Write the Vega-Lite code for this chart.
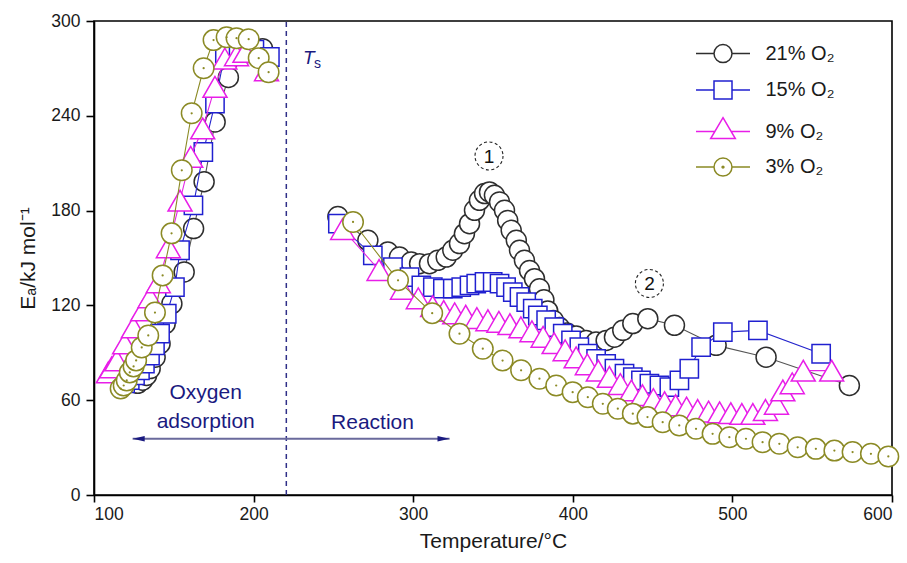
{
  "$schema": "https://vega.github.io/schema/vega-lite/v6.json",
  "width": 798,
  "height": 474,
  "autosize": {"type": "none"},
  "padding": {"left": 94, "top": 21, "right": 15, "bottom": 68},
  "background": "white",
  "config": {
    "font": "Liberation Sans",
    "view": {"stroke": "#000000", "strokeWidth": 1.6},
    "axis": {
      "domainColor": "#000000", "domainWidth": 1.6, "tickColor": "#000000", "tickWidth": 1.6,
      "labelColor": "#1a1a1a", "titleColor": "#1a1a1a", "grid": false,
      "labelFont": "Liberation Sans", "titleFont": "Liberation Sans", "titleFontWeight": "normal",
      "labelFontSize": 17.5, "titleFontSize": 21
    },
    "axisX": {"tickSize": 7, "labelPadding": 3, "titlePadding": 8},
    "axisY": {"tickSize": 8, "labelPadding": 6, "titlePadding": 12}
  },
  "datasets": {
    "ea": [
      {"s": "21% O₂", "g": "r", "T": 127.4, "E": 70.7},
      {"s": "21% O₂", "g": "r", "T": 130.4, "E": 72.7},
      {"s": "21% O₂", "g": "r", "T": 132.9, "E": 75.7},
      {"s": "21% O₂", "g": "r", "T": 135.2, "E": 80},
      {"s": "21% O₂", "g": "r", "T": 138.3, "E": 87.2},
      {"s": "21% O₂", "g": "r", "T": 141.4, "E": 95.8},
      {"s": "21% O₂", "g": "r", "T": 144.6, "E": 108.4},
      {"s": "21% O₂", "g": "r", "T": 148.8, "E": 121.1},
      {"s": "21% O₂", "g": "r", "T": 156.5, "E": 141.2},
      {"s": "21% O₂", "g": "r", "T": 162.4, "E": 168.6},
      {"s": "21% O₂", "g": "r", "T": 169, "E": 198.3},
      {"s": "21% O₂", "g": "r", "T": 175.9, "E": 236.1},
      {"s": "21% O₂", "g": "r", "T": 184.2, "E": 264.3},
      {"s": "21% O₂", "g": "r", "T": 195.6, "E": 280},
      {"s": "21% O₂", "g": "r", "T": 205.6, "E": 282.5},
      {"s": "21% O₂", "g": "h", "T": 252.8, "E": 176.2},
      {"s": "21% O₂", "g": "h", "T": 271.6, "E": 161.2},
      {"s": "21% O₂", "g": "h", "T": 284.1, "E": 153.8},
      {"s": "21% O₂", "g": "h", "T": 291.4, "E": 150.6},
      {"s": "21% O₂", "g": "h", "T": 298.7, "E": 147.4},
      {"s": "21% O₂", "g": "h", "T": 304, "E": 146.4},
      {"s": "21% O₂", "g": "h", "T": 310.2, "E": 146.4},
      {"s": "21% O₂", "g": "h", "T": 315.4, "E": 148.5},
      {"s": "21% O₂", "g": "h", "T": 320.7, "E": 150.6},
      {"s": "21% O₂", "g": "h", "T": 324.8, "E": 154.9},
      {"s": "21% O₂", "g": "h", "T": 329, "E": 159.1},
      {"s": "21% O₂", "g": "h", "T": 332.1, "E": 165.4},
      {"s": "21% O₂", "g": "h", "T": 335.3, "E": 171.7},
      {"s": "21% O₂", "g": "h", "T": 338.4, "E": 180.2},
      {"s": "21% O₂", "g": "h", "T": 341.5, "E": 186.5},
      {"s": "21% O₂", "g": "h", "T": 344.7, "E": 190.8},
      {"s": "21% O₂", "g": "h", "T": 347.8, "E": 191.8},
      {"s": "21% O₂", "g": "h", "T": 350.9, "E": 189.7},
      {"s": "21% O₂", "g": "h", "T": 354.1, "E": 185.5},
      {"s": "21% O₂", "g": "h", "T": 357.2, "E": 180.2},
      {"s": "21% O₂", "g": "h", "T": 359.2, "E": 173.8},
      {"s": "21% O₂", "g": "h", "T": 361.4, "E": 167.5},
      {"s": "21% O₂", "g": "h", "T": 364.6, "E": 161.2},
      {"s": "21% O₂", "g": "h", "T": 366.6, "E": 154.9},
      {"s": "21% O₂", "g": "h", "T": 369.7, "E": 148.5},
      {"s": "21% O₂", "g": "h", "T": 372.9, "E": 142.1},
      {"s": "21% O₂", "g": "h", "T": 376, "E": 136.9},
      {"s": "21% O₂", "g": "h", "T": 379.1, "E": 130.5},
      {"s": "21% O₂", "g": "h", "T": 381.9, "E": 123.5},
      {"s": "21% O₂", "g": "h", "T": 384.3, "E": 116.5},
      {"s": "21% O₂", "g": "h", "T": 387.8, "E": 110.5},
      {"s": "21% O₂", "g": "h", "T": 391.7, "E": 106},
      {"s": "21% O₂", "g": "h", "T": 396.2, "E": 102.6},
      {"s": "21% O₂", "g": "h", "T": 402.1, "E": 100.6},
      {"s": "21% O₂", "g": "h", "T": 408.3, "E": 97.8},
      {"s": "21% O₂", "g": "h", "T": 414.6, "E": 96.8},
      {"s": "21% O₂", "g": "h", "T": 420.9, "E": 97.8},
      {"s": "21% O₂", "g": "h", "T": 426.1, "E": 99.9},
      {"s": "21% O₂", "g": "h", "T": 431.3, "E": 104.2},
      {"s": "21% O₂", "g": "h", "T": 437.6, "E": 108.5},
      {"s": "21% O₂", "g": "h", "T": 447, "E": 111.6},
      {"s": "21% O₂", "g": "h", "T": 463.7, "E": 107.4},
      {"s": "21% O₂", "g": "h", "T": 489.8, "E": 94.7},
      {"s": "21% O₂", "g": "h", "T": 521.1, "E": 87.2},
      {"s": "21% O₂", "g": "h", "T": 573.3, "E": 69.3},
      {"s": "15% O₂", "g": "r", "T": 119.5, "E": 70.7},
      {"s": "15% O₂", "g": "r", "T": 122.4, "E": 72.7},
      {"s": "15% O₂", "g": "r", "T": 125.7, "E": 75.7},
      {"s": "15% O₂", "g": "r", "T": 128.8, "E": 78.9},
      {"s": "15% O₂", "g": "r", "T": 131.9, "E": 83.1},
      {"s": "15% O₂", "g": "r", "T": 135.1, "E": 88.3},
      {"s": "15% O₂", "g": "r", "T": 138.2, "E": 94.7},
      {"s": "15% O₂", "g": "r", "T": 141.4, "E": 102.1},
      {"s": "15% O₂", "g": "r", "T": 145.6, "E": 114.7},
      {"s": "15% O₂", "g": "r", "T": 150.7, "E": 131.6},
      {"s": "15% O₂", "g": "r", "T": 153.9, "E": 154.9},
      {"s": "15% O₂", "g": "r", "T": 162.3, "E": 183.3},
      {"s": "15% O₂", "g": "r", "T": 168.5, "E": 217.1},
      {"s": "15% O₂", "g": "r", "T": 175.8, "E": 247.8},
      {"s": "15% O₂", "g": "r", "T": 182, "E": 279.5},
      {"s": "15% O₂", "g": "r", "T": 190.6, "E": 280.9},
      {"s": "15% O₂", "g": "r", "T": 200.5, "E": 281.9},
      {"s": "15% O₂", "g": "r", "T": 210.2, "E": 277.2},
      {"s": "15% O₂", "g": "h", "T": 252.8, "E": 171.7},
      {"s": "15% O₂", "g": "h", "T": 274.7, "E": 151.7},
      {"s": "15% O₂", "g": "h", "T": 287.3, "E": 144.2},
      {"s": "15% O₂", "g": "h", "T": 297.7, "E": 137.9},
      {"s": "15% O₂", "g": "h", "T": 305.1, "E": 132.7},
      {"s": "15% O₂", "g": "h", "T": 312.3, "E": 131.6},
      {"s": "15% O₂", "g": "h", "T": 318.6, "E": 130.6},
      {"s": "15% O₂", "g": "h", "T": 324.8, "E": 130.6},
      {"s": "15% O₂", "g": "h", "T": 330.1, "E": 131.6},
      {"s": "15% O₂", "g": "h", "T": 335.3, "E": 132.7},
      {"s": "15% O₂", "g": "h", "T": 339.5, "E": 133.8},
      {"s": "15% O₂", "g": "h", "T": 344.7, "E": 134.8},
      {"s": "15% O₂", "g": "h", "T": 349.8, "E": 134.8},
      {"s": "15% O₂", "g": "h", "T": 354.1, "E": 133.8},
      {"s": "15% O₂", "g": "h", "T": 358.2, "E": 131.6},
      {"s": "15% O₂", "g": "h", "T": 362.4, "E": 128.4},
      {"s": "15% O₂", "g": "h", "T": 366.6, "E": 125.3},
      {"s": "15% O₂", "g": "h", "T": 370.8, "E": 122.1},
      {"s": "15% O₂", "g": "h", "T": 374.9, "E": 117.9},
      {"s": "15% O₂", "g": "h", "T": 378.1, "E": 113.6},
      {"s": "15% O₂", "g": "h", "T": 383.3, "E": 110.6},
      {"s": "15% O₂", "g": "h", "T": 388.4, "E": 106.3},
      {"s": "15% O₂", "g": "h", "T": 393.7, "E": 102.1},
      {"s": "15% O₂", "g": "h", "T": 398.9, "E": 97.8},
      {"s": "15% O₂", "g": "h", "T": 404.1, "E": 93.6},
      {"s": "15% O₂", "g": "h", "T": 409.4, "E": 89.4},
      {"s": "15% O₂", "g": "h", "T": 414.6, "E": 86.2},
      {"s": "15% O₂", "g": "h", "T": 420.9, "E": 83},
      {"s": "15% O₂", "g": "h", "T": 426.1, "E": 79.9},
      {"s": "15% O₂", "g": "h", "T": 432.4, "E": 76.8},
      {"s": "15% O₂", "g": "h", "T": 437.6, "E": 74.6},
      {"s": "15% O₂", "g": "h", "T": 442.7, "E": 72.5},
      {"s": "15% O₂", "g": "h", "T": 448, "E": 70.4},
      {"s": "15% O₂", "g": "h", "T": 454.3, "E": 69.3},
      {"s": "15% O₂", "g": "h", "T": 460.5, "E": 68.3},
      {"s": "15% O₂", "g": "h", "T": 466.8, "E": 72.5},
      {"s": "15% O₂", "g": "h", "T": 473, "E": 79.9},
      {"s": "15% O₂", "g": "h", "T": 480.4, "E": 93.6},
      {"s": "15% O₂", "g": "h", "T": 494, "E": 103.1},
      {"s": "15% O₂", "g": "h", "T": 516, "E": 104.2},
      {"s": "15% O₂", "g": "h", "T": 555.6, "E": 89.4},
      {"s": "9% O₂", "g": "r", "T": 109, "E": 77.6},
      {"s": "9% O₂", "g": "r", "T": 111.1, "E": 80.8},
      {"s": "9% O₂", "g": "r", "T": 114.3, "E": 85.2},
      {"s": "9% O₂", "g": "r", "T": 119.2, "E": 95.9},
      {"s": "9% O₂", "g": "r", "T": 124.7, "E": 106.1},
      {"s": "9% O₂", "g": "r", "T": 130.5, "E": 116.8},
      {"s": "9% O₂", "g": "r", "T": 135.1, "E": 125.1},
      {"s": "9% O₂", "g": "r", "T": 140.3, "E": 134.6},
      {"s": "9% O₂", "g": "r", "T": 146.6, "E": 156.8},
      {"s": "9% O₂", "g": "r", "T": 153.9, "E": 186.3},
      {"s": "9% O₂", "g": "r", "T": 160.6, "E": 214},
      {"s": "9% O₂", "g": "r", "T": 168.1, "E": 232},
      {"s": "9% O₂", "g": "r", "T": 175.8, "E": 258.3},
      {"s": "9% O₂", "g": "r", "T": 182, "E": 276.2},
      {"s": "9% O₂", "g": "r", "T": 189.3, "E": 278.3},
      {"s": "9% O₂", "g": "r", "T": 194.6, "E": 280.4},
      {"s": "9% O₂", "g": "r", "T": 208.1, "E": 268.8},
      {"s": "9% O₂", "g": "h", "T": 255.8, "E": 168.3},
      {"s": "9% O₂", "g": "h", "T": 278.6, "E": 142.4},
      {"s": "9% O₂", "g": "h", "T": 293.3, "E": 130.5},
      {"s": "9% O₂", "g": "h", "T": 303.2, "E": 124.5},
      {"s": "9% O₂", "g": "h", "T": 312.2, "E": 119.5},
      {"s": "9% O₂", "g": "h", "T": 319.1, "E": 116.5},
      {"s": "9% O₂", "g": "h", "T": 326, "E": 115},
      {"s": "9% O₂", "g": "h", "T": 332.9, "E": 113.5},
      {"s": "9% O₂", "g": "h", "T": 339.9, "E": 112},
      {"s": "9% O₂", "g": "h", "T": 346.8, "E": 110.6},
      {"s": "9% O₂", "g": "h", "T": 353.7, "E": 109.6},
      {"s": "9% O₂", "g": "h", "T": 360.6, "E": 108.1},
      {"s": "9% O₂", "g": "h", "T": 367.5, "E": 106.1},
      {"s": "9% O₂", "g": "h", "T": 374.4, "E": 103.6},
      {"s": "9% O₂", "g": "h", "T": 381.4, "E": 100.1},
      {"s": "9% O₂", "g": "h", "T": 388.3, "E": 96.1},
      {"s": "9% O₂", "g": "h", "T": 395.2, "E": 91.6},
      {"s": "9% O₂", "g": "h", "T": 402.1, "E": 87.1},
      {"s": "9% O₂", "g": "h", "T": 409.1, "E": 82.7},
      {"s": "9% O₂", "g": "h", "T": 416, "E": 78.7},
      {"s": "9% O₂", "g": "h", "T": 422.9, "E": 74.7},
      {"s": "9% O₂", "g": "h", "T": 429.8, "E": 70.2},
      {"s": "9% O₂", "g": "h", "T": 436.7, "E": 66.2},
      {"s": "9% O₂", "g": "h", "T": 443.6, "E": 63.2},
      {"s": "9% O₂", "g": "h", "T": 450.5, "E": 60.7},
      {"s": "9% O₂", "g": "h", "T": 457.5, "E": 58.7},
      {"s": "9% O₂", "g": "h", "T": 464.4, "E": 56.8},
      {"s": "9% O₂", "g": "h", "T": 471.3, "E": 55.3},
      {"s": "9% O₂", "g": "h", "T": 478.2, "E": 53.8},
      {"s": "9% O₂", "g": "h", "T": 485.1, "E": 52.8},
      {"s": "9% O₂", "g": "h", "T": 492, "E": 52.3},
      {"s": "9% O₂", "g": "h", "T": 499, "E": 51.8},
      {"s": "9% O₂", "g": "h", "T": 505.9, "E": 51.3},
      {"s": "9% O₂", "g": "h", "T": 512.8, "E": 51.3},
      {"s": "9% O₂", "g": "h", "T": 520.7, "E": 53.8},
      {"s": "9% O₂", "g": "h", "T": 527.6, "E": 57.7},
      {"s": "9% O₂", "g": "h", "T": 531.6, "E": 66.2},
      {"s": "9% O₂", "g": "h", "T": 537.5, "E": 70.7},
      {"s": "9% O₂", "g": "h", "T": 544.4, "E": 78.7},
      {"s": "9% O₂", "g": "h", "T": 562.2, "E": 78.7},
      {"s": "3% O₂", "g": "r", "T": 116.7, "E": 67.4},
      {"s": "3% O₂", "g": "r", "T": 118.6, "E": 69.3},
      {"s": "3% O₂", "g": "r", "T": 120.5, "E": 72.5},
      {"s": "3% O₂", "g": "r", "T": 122.4, "E": 77.6},
      {"s": "3% O₂", "g": "r", "T": 124.8, "E": 81.4},
      {"s": "3% O₂", "g": "r", "T": 126.4, "E": 85.2},
      {"s": "3% O₂", "g": "r", "T": 129.9, "E": 93.4},
      {"s": "3% O₂", "g": "r", "T": 134, "E": 101},
      {"s": "3% O₂", "g": "r", "T": 138.2, "E": 115.5},
      {"s": "3% O₂", "g": "r", "T": 143, "E": 139},
      {"s": "3% O₂", "g": "r", "T": 148.6, "E": 165.6},
      {"s": "3% O₂", "g": "r", "T": 155, "E": 205.5},
      {"s": "3% O₂", "g": "r", "T": 161.2, "E": 241.6},
      {"s": "3% O₂", "g": "r", "T": 168.7, "E": 270.1},
      {"s": "3% O₂", "g": "r", "T": 174.9, "E": 287.9},
      {"s": "3% O₂", "g": "r", "T": 183.1, "E": 289.7},
      {"s": "3% O₂", "g": "r", "T": 189.3, "E": 289.1},
      {"s": "3% O₂", "g": "r", "T": 196.9, "E": 288.5},
      {"s": "3% O₂", "g": "r", "T": 203.2, "E": 276.5},
      {"s": "3% O₂", "g": "r", "T": 209.4, "E": 267.6},
      {"s": "3% O₂", "g": "h", "T": 262.3, "E": 172.8},
      {"s": "3% O₂", "g": "h", "T": 290.5, "E": 135.9},
      {"s": "3% O₂", "g": "h", "T": 311.9, "E": 115.1},
      {"s": "3% O₂", "g": "h", "T": 329, "E": 102.1},
      {"s": "3% O₂", "g": "h", "T": 343.6, "E": 92.6},
      {"s": "3% O₂", "g": "h", "T": 356, "E": 85.1},
      {"s": "3% O₂", "g": "h", "T": 367.6, "E": 78.9},
      {"s": "3% O₂", "g": "h", "T": 379.1, "E": 73.6},
      {"s": "3% O₂", "g": "h", "T": 389.6, "E": 69.3},
      {"s": "3% O₂", "g": "h", "T": 399.9, "E": 65.1},
      {"s": "3% O₂", "g": "h", "T": 409.4, "E": 61.9},
      {"s": "3% O₂", "g": "h", "T": 418.8, "E": 57.7},
      {"s": "3% O₂", "g": "h", "T": 428.2, "E": 54.6},
      {"s": "3% O₂", "g": "h", "T": 437.6, "E": 51.5},
      {"s": "3% O₂", "g": "h", "T": 446.8, "E": 49.3},
      {"s": "3% O₂", "g": "h", "T": 456.3, "E": 46.1},
      {"s": "3% O₂", "g": "h", "T": 466.7, "E": 44},
      {"s": "3% O₂", "g": "h", "T": 477.2, "E": 41.9},
      {"s": "3% O₂", "g": "h", "T": 487.6, "E": 38.7},
      {"s": "3% O₂", "g": "h", "T": 498.1, "E": 36.6},
      {"s": "3% O₂", "g": "h", "T": 508.5, "E": 35.6},
      {"s": "3% O₂", "g": "h", "T": 518.9, "E": 33.4},
      {"s": "3% O₂", "g": "h", "T": 529.4, "E": 32.4},
      {"s": "3% O₂", "g": "h", "T": 540.9, "E": 30.2},
      {"s": "3% O₂", "g": "h", "T": 552.3, "E": 29.2},
      {"s": "3% O₂", "g": "h", "T": 563.9, "E": 28.1},
      {"s": "3% O₂", "g": "h", "T": 575.3, "E": 27.2},
      {"s": "3% O₂", "g": "h", "T": 586.8, "E": 26.1},
      {"s": "3% O₂", "g": "h", "T": 597.7, "E": 24.4}
    ]
  },
  "layer": [
    {
      "data": {"values": [{}]},
      "mark": {"type": "rule", "stroke": "#2f2f88", "strokeDash": [5, 4], "strokeWidth": 1.5},
      "encoding": {
        "x": {"datum": 220.5, "type": "quantitative", "scale": {"domain": [100, 600], "nice": false, "zero": false}, "axis": {"values": [100, 200, 300, 400, 500, 600], "title": "Temperature/°C"}},
        "y": {"datum": 0, "type": "quantitative", "scale": {"domain": [0, 300], "nice": false}, "axis": {"values": [0, 60, 120, 180, 240, 300], "title": "Eₐ/kJ mol⁻¹"}},
        "y2": {"datum": 300}
      }
    },
    {
      "data": {"name": "ea"},
      "transform": [{"filter": "datum.T < 0"}],
      "mark": {"type": "point", "filled": true, "fill": "white", "strokeWidth": 1.5, "opacity": 1},
      "encoding": {
        "x": {"field": "T", "type": "quantitative", "axis": {"values": [100, 200, 300, 400, 500, 600], "title": "Temperature/°C"}},
        "y": {"field": "E", "type": "quantitative", "axis": {"values": [0, 60, 120, 180, 240, 300], "title": "Eₐ/kJ mol⁻¹"}},
        "stroke": {"field": "s", "type": "nominal",
          "scale": {"domain": ["21% O₂", "15% O₂", "9% O₂", "3% O₂"], "range": ["#2e2e2e", "#2020d0", "#e81ee8", "#8b8a25"]},
          "legend": {
            "title": null, "orient": "none", "legendX": 619, "legendY": 22.6, "padding": 0,
            "labelFontSize": 20, "labelFont": "Liberation Sans", "labelColor": "#1a1a1a", "labelLimit": 300,
            "symbolSize": 324, "symbolStrokeWidth": 1.5, "symbolFillColor": "white", "symbolOpacity": 1,
            "labelOffset": 32.5, "rowPadding": 12.5
          }},
        "shape": {"field": "s", "type": "nominal",
          "scale": {"domain": ["21% O₂", "15% O₂", "9% O₂", "3% O₂"], "range": [
            "M-3,0H-1M1,0H3M1,0C1,0.5523,0.5523,1,0,1C-0.5523,1,-1,0.5523,-1,0C-1,-0.5523,-0.5523,-1,0,-1C0.5523,-1,1,-0.5523,1,0Z",
            "M-3,0H-1M1,0H3M-1,-1H1V1H-1Z",
            "M-3,0H-0.9M0.9,0H3M0,-1.55L1.37,0.78L-1.37,0.78Z",
            "M-3,0H-1M1,0H3M1,0C1,0.5523,0.5523,1,0,1C-0.5523,1,-1,0.5523,-1,0C-1,-0.5523,-0.5523,-1,0,-1C0.5523,-1,1,-0.5523,1,0ZM0.1,0C0.1,0.055,0.055,0.1,0,0.1C-0.055,0.1,-0.1,0.055,-0.1,0C-0.1,-0.055,-0.055,-0.1,0,-0.1C0.055,-0.1,0.1,-0.055,0.1,0Z"
          ]}}
      }
    },
    {
      "data": {"name": "ea"},
      "transform": [{"filter": "datum.s === '21% O₂'"}],
      "mark": {"type": "line", "strokeWidth": 1.1, "color": "#555555"},
      "encoding": {
        "x": {"field": "T", "type": "quantitative", "axis": {"values": [100, 200, 300, 400, 500, 600], "title": "Temperature/°C"}},
        "y": {"field": "E", "type": "quantitative", "axis": {"values": [0, 60, 120, 180, 240, 300], "title": "Eₐ/kJ mol⁻¹"}},
        "detail": {"field": "g"}
      }
    },
    {
      "data": {"name": "ea"},
      "transform": [{"filter": "datum.s === '21% O₂'"}],
      "mark": {"type": "point", "shape": "circle", "size": 400, "filled": true, "fill": "white", "stroke": "#2e2e2e", "strokeWidth": 1.5, "opacity": 1},
      "encoding": {
        "x": {"field": "T", "type": "quantitative", "axis": {"values": [100, 200, 300, 400, 500, 600], "title": "Temperature/°C"}},
        "y": {"field": "E", "type": "quantitative", "axis": {"values": [0, 60, 120, 180, 240, 300], "title": "Eₐ/kJ mol⁻¹"}}
      }
    },
    {
      "data": {"name": "ea"},
      "transform": [{"filter": "datum.s === '15% O₂'"}],
      "mark": {"type": "line", "strokeWidth": 1.1, "color": "#2424cc"},
      "encoding": {
        "x": {"field": "T", "type": "quantitative", "axis": {"values": [100, 200, 300, 400, 500, 600], "title": "Temperature/°C"}},
        "y": {"field": "E", "type": "quantitative", "axis": {"values": [0, 60, 120, 180, 240, 300], "title": "Eₐ/kJ mol⁻¹"}},
        "detail": {"field": "g"}
      }
    },
    {
      "data": {"name": "ea"},
      "transform": [{"filter": "datum.s === '15% O₂'"}],
      "mark": {"type": "point", "shape": "square", "size": 335, "filled": true, "fill": "white", "stroke": "#2020d0", "strokeWidth": 1.5, "opacity": 1},
      "encoding": {
        "x": {"field": "T", "type": "quantitative", "axis": {"values": [100, 200, 300, 400, 500, 600], "title": "Temperature/°C"}},
        "y": {"field": "E", "type": "quantitative", "axis": {"values": [0, 60, 120, 180, 240, 300], "title": "Eₐ/kJ mol⁻¹"}}
      }
    },
    {
      "data": {"name": "ea"},
      "transform": [{"filter": "datum.s === '9% O₂'"}],
      "mark": {"type": "line", "strokeWidth": 1.1, "color": "#e426e4"},
      "encoding": {
        "x": {"field": "T", "type": "quantitative", "axis": {"values": [100, 200, 300, 400, 500, 600], "title": "Temperature/°C"}},
        "y": {"field": "E", "type": "quantitative", "axis": {"values": [0, 60, 120, 180, 240, 300], "title": "Eₐ/kJ mol⁻¹"}},
        "detail": {"field": "g"}
      }
    },
    {
      "data": {"name": "ea"},
      "transform": [{"filter": "datum.s === '9% O₂'"}],
      "mark": {"type": "point", "shape": "triangle-up", "size": 576, "filled": true, "fill": "white", "stroke": "#e81ee8", "strokeWidth": 1.5, "opacity": 1},
      "encoding": {
        "x": {"field": "T", "type": "quantitative", "axis": {"values": [100, 200, 300, 400, 500, 600], "title": "Temperature/°C"}},
        "y": {"field": "E", "type": "quantitative", "axis": {"values": [0, 60, 120, 180, 240, 300], "title": "Eₐ/kJ mol⁻¹"}}
      }
    },
    {
      "data": {"name": "ea"},
      "transform": [{"filter": "datum.s === '3% O₂'"}],
      "mark": {"type": "line", "strokeWidth": 1.1, "color": "#8b8a25"},
      "encoding": {
        "x": {"field": "T", "type": "quantitative", "axis": {"values": [100, 200, 300, 400, 500, 600], "title": "Temperature/°C"}},
        "y": {"field": "E", "type": "quantitative", "axis": {"values": [0, 60, 120, 180, 240, 300], "title": "Eₐ/kJ mol⁻¹"}},
        "detail": {"field": "g"}
      }
    },
    {
      "data": {"name": "ea"},
      "transform": [{"filter": "datum.s === '3% O₂'"}],
      "mark": {"type": "point", "shape": "circle", "size": 420, "filled": true, "fill": "white", "stroke": "#8b8a25", "strokeWidth": 1.5, "opacity": 1},
      "encoding": {
        "x": {"field": "T", "type": "quantitative", "axis": {"values": [100, 200, 300, 400, 500, 600], "title": "Temperature/°C"}},
        "y": {"field": "E", "type": "quantitative", "axis": {"values": [0, 60, 120, 180, 240, 300], "title": "Eₐ/kJ mol⁻¹"}}
      }
    },
    {
      "data": {"name": "ea"},
      "transform": [{"filter": "datum.s === '3% O₂'"}],
      "mark": {"type": "point", "filled": true, "color": "#8b8a25", "size": 5, "opacity": 1},
      "encoding": {
        "x": {"field": "T", "type": "quantitative", "axis": {"values": [100, 200, 300, 400, 500, 600], "title": "Temperature/°C"}},
        "y": {"field": "E", "type": "quantitative", "axis": {"values": [0, 60, 120, 180, 240, 300], "title": "Eₐ/kJ mol⁻¹"}}
      }
    },
    {
      "data": {"values": [{}]},
      "mark": {"type": "rule", "stroke": "#6a6a9c", "strokeWidth": 2},
      "encoding": {
        "x": {"datum": 124.2, "type": "quantitative", "axis": {"values": [100, 200, 300, 400, 500, 600], "title": "Temperature/°C"}},
        "x2": {"datum": 322.8},
        "y": {"datum": 35.6, "type": "quantitative", "axis": {"values": [0, 60, 120, 180, 240, 300], "title": "Eₐ/kJ mol⁻¹"}}
      }
    },
    {
      "data": {"values": [{}]},
      "mark": {"type": "point", "shape": "M-1,0L1,-0.45L1,0.45Z", "filled": true, "color": "#1a1a80", "size": 144, "opacity": 1},
      "encoding": {
        "x": {"datum": 128, "type": "quantitative", "axis": {"values": [100, 200, 300, 400, 500, 600], "title": "Temperature/°C"}},
        "y": {"datum": 35.6, "type": "quantitative", "axis": {"values": [0, 60, 120, 180, 240, 300], "title": "Eₐ/kJ mol⁻¹"}}
      }
    },
    {
      "data": {"values": [{}]},
      "mark": {"type": "point", "shape": "M1,0L-1,-0.45L-1,0.45Z", "filled": true, "color": "#1a1a80", "size": 144, "opacity": 1},
      "encoding": {
        "x": {"datum": 319, "type": "quantitative", "axis": {"values": [100, 200, 300, 400, 500, 600], "title": "Temperature/°C"}},
        "y": {"datum": 35.6, "type": "quantitative", "axis": {"values": [0, 60, 120, 180, 240, 300], "title": "Eₐ/kJ mol⁻¹"}}
      }
    },
    {
      "data": {"values": [{}]},
      "mark": {"type": "text", "text": "Oxygen", "fontSize": 21, "color": "#1a1a80", "align": "center", "baseline": "middle"},
      "encoding": {
        "x": {"datum": 170, "type": "quantitative", "axis": {"values": [100, 200, 300, 400, 500, 600], "title": "Temperature/°C"}},
        "y": {"datum": 64.3, "type": "quantitative", "axis": {"values": [0, 60, 120, 180, 240, 300], "title": "Eₐ/kJ mol⁻¹"}}
      }
    },
    {
      "data": {"values": [{}]},
      "mark": {"type": "text", "text": "adsorption", "fontSize": 21, "color": "#1a1a80", "align": "center", "baseline": "middle"},
      "encoding": {
        "x": {"datum": 170, "type": "quantitative", "axis": {"values": [100, 200, 300, 400, 500, 600], "title": "Temperature/°C"}},
        "y": {"datum": 46.1, "type": "quantitative", "axis": {"values": [0, 60, 120, 180, 240, 300], "title": "Eₐ/kJ mol⁻¹"}}
      }
    },
    {
      "data": {"values": [{}]},
      "mark": {"type": "text", "text": "Reaction", "fontSize": 21, "color": "#1a1a80", "align": "center", "baseline": "middle"},
      "encoding": {
        "x": {"datum": 274.5, "type": "quantitative", "axis": {"values": [100, 200, 300, 400, 500, 600], "title": "Temperature/°C"}},
        "y": {"datum": 45.5, "type": "quantitative", "axis": {"values": [0, 60, 120, 180, 240, 300], "title": "Eₐ/kJ mol⁻¹"}}
      }
    },
    {
      "data": {"values": [{}]},
      "mark": {"type": "text", "text": "T", "fontSize": 19, "fontStyle": "italic", "color": "#1a1a80", "align": "left", "baseline": "alphabetic"},
      "encoding": {
        "x": {"datum": 230.9, "type": "quantitative", "axis": {"values": [100, 200, 300, 400, 500, 600], "title": "Temperature/°C"}},
        "y": {"datum": 273.1, "type": "quantitative", "axis": {"values": [0, 60, 120, 180, 240, 300], "title": "Eₐ/kJ mol⁻¹"}}
      }
    },
    {
      "data": {"values": [{}]},
      "mark": {"type": "text", "text": "s", "fontSize": 14, "color": "#1a1a80", "align": "left", "baseline": "alphabetic"},
      "encoding": {
        "x": {"datum": 237.9, "type": "quantitative", "axis": {"values": [100, 200, 300, 400, 500, 600], "title": "Temperature/°C"}},
        "y": {"datum": 270.3, "type": "quantitative", "axis": {"values": [0, 60, 120, 180, 240, 300], "title": "Eₐ/kJ mol⁻¹"}}
      }
    },
    {
      "data": {"values": [{}]},
      "mark": {"type": "point", "shape": "circle", "size": 784, "stroke": "#222222", "strokeWidth": 1.1, "strokeDash": [3, 2.5], "filled": false, "opacity": 1},
      "encoding": {
        "x": {"datum": 347.5, "type": "quantitative", "axis": {"values": [100, 200, 300, 400, 500, 600], "title": "Temperature/°C"}},
        "y": {"datum": 214.6, "type": "quantitative", "axis": {"values": [0, 60, 120, 180, 240, 300], "title": "Eₐ/kJ mol⁻¹"}}
      }
    },
    {
      "data": {"values": [{}]},
      "mark": {"type": "text", "text": "1", "fontSize": 19, "color": "#111111", "align": "center", "baseline": "middle", "dy": 1},
      "encoding": {
        "x": {"datum": 347.5, "type": "quantitative", "axis": {"values": [100, 200, 300, 400, 500, 600], "title": "Temperature/°C"}},
        "y": {"datum": 214.6, "type": "quantitative", "axis": {"values": [0, 60, 120, 180, 240, 300], "title": "Eₐ/kJ mol⁻¹"}}
      }
    },
    {
      "data": {"values": [{}]},
      "mark": {"type": "point", "shape": "circle", "size": 784, "stroke": "#222222", "strokeWidth": 1.1, "strokeDash": [3, 2.5], "filled": false, "opacity": 1},
      "encoding": {
        "x": {"datum": 448, "type": "quantitative", "axis": {"values": [100, 200, 300, 400, 500, 600], "title": "Temperature/°C"}},
        "y": {"datum": 133.9, "type": "quantitative", "axis": {"values": [0, 60, 120, 180, 240, 300], "title": "Eₐ/kJ mol⁻¹"}}
      }
    },
    {
      "data": {"values": [{}]},
      "mark": {"type": "text", "text": "2", "fontSize": 19, "color": "#111111", "align": "center", "baseline": "middle", "dy": 1},
      "encoding": {
        "x": {"datum": 448, "type": "quantitative", "axis": {"values": [100, 200, 300, 400, 500, 600], "title": "Temperature/°C"}},
        "y": {"datum": 133.9, "type": "quantitative", "axis": {"values": [0, 60, 120, 180, 240, 300], "title": "Eₐ/kJ mol⁻¹"}}
      }
    }
  ]
}
